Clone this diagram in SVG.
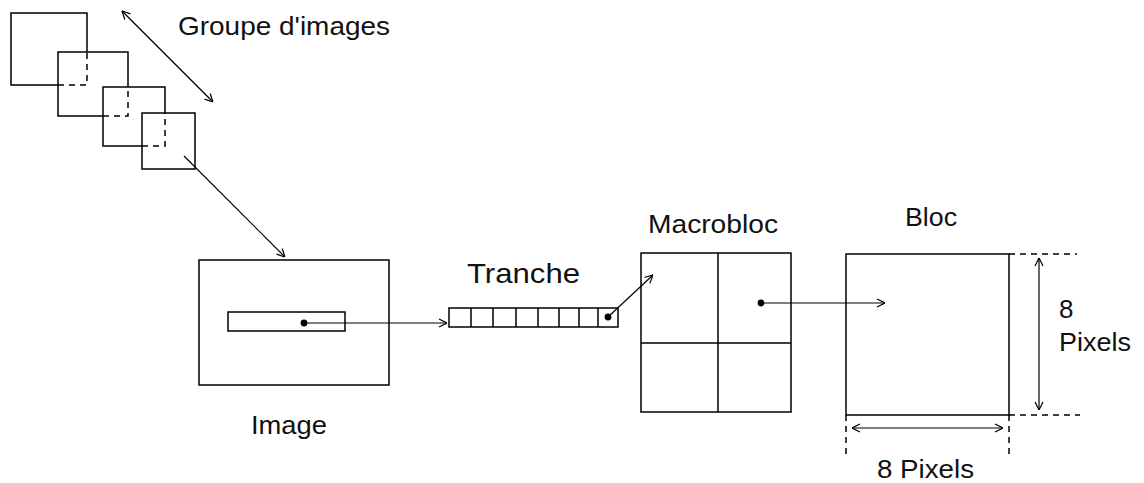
<svg xmlns="http://www.w3.org/2000/svg" width="1144" height="483" viewBox="0 0 1144 483">
<style>
.box{fill:none;stroke:#000;stroke-width:1.5}
.dash{fill:none;stroke:#000;stroke-width:1.5;stroke-dasharray:6 5}
.ln{fill:none;stroke:#000;stroke-width:1.2}
.t{font-family:"Liberation Sans",Arial,sans-serif;font-size:26px;fill:#111}
</style>
<defs>
<marker id="ah" viewBox="0 0 10 10" refX="10" refY="5" markerWidth="10" markerHeight="10" markerUnits="userSpaceOnUse" orient="auto-start-reverse">
<path d="M2,1 L10,5 L2,9" fill="none" stroke="#000" stroke-width="1.2"/>
</marker>
</defs>
<rect width="1144" height="483" fill="#fff"/>
<g id="groupe">
<polyline class="box" points="87,52 87,13 11,13 11,85 58,85"/>
<path class="dash" d="M58,85 H87 V52"/>
<polyline class="box" points="128,87 128,52 58,52 58,116 103,116"/>
<path class="dash" d="M103,116 H128 V87"/>
<polyline class="box" points="165,113 165,87 103,87 103,146 142,146"/>
<path class="dash" d="M142,146 H165 V113"/>
<rect class="box" x="142" y="113" width="53" height="56"/>
<text class="t" x="178" y="35" textLength="212" lengthAdjust="spacingAndGlyphs">Groupe d'images</text>
</g>
<g id="image">
<rect class="box" x="199" y="260" width="190" height="125"/>
<rect class="box" x="228" y="312" width="117" height="19"/>
<circle cx="304" cy="323" r="3.4" fill="#000"/>
<text class="t" x="251" y="434" textLength="76" lengthAdjust="spacingAndGlyphs">Image</text>
</g>
<g id="tranche">
<rect class="box" x="449" y="308" width="169" height="19"/>
<path class="box" d="M471,308V327M493,308V327M516,308V327M538,308V327M559,308V327M579,308V327M598,308V327"/>
<circle cx="608" cy="317" r="3.4" fill="#000"/>
<text class="t" x="467" y="283" style="font-size:28px" textLength="113" lengthAdjust="spacingAndGlyphs">Tranche</text>
</g>
<g id="macrobloc">
<rect class="box" x="641" y="253" width="150" height="159"/>
<path class="box" d="M718,253V412M641,343H791"/>
<circle cx="761" cy="303" r="3.4" fill="#000"/>
<text class="t" x="648" y="233" textLength="130" lengthAdjust="spacingAndGlyphs">Macrobloc</text>
</g>
<g id="bloc">
<rect class="box" x="846" y="254" width="163" height="161"/>
<text class="t" x="905" y="226" textLength="52" lengthAdjust="spacingAndGlyphs">Bloc</text>
<path class="dash" d="M1009,254H1077M1009,415H1080M846,415V455M1009,415V455"/>
<text class="t" x="1059" y="318">8</text>
<text class="t" x="1059" y="351" textLength="72" lengthAdjust="spacingAndGlyphs">Pixels</text>
<text class="t" x="877" y="478" textLength="97" lengthAdjust="spacingAndGlyphs">8 Pixels</text>
</g>
<g id="connectors">
<line class="ln" x1="122" y1="11" x2="213" y2="102" marker-start="url(#ah)" marker-end="url(#ah)"/>
<line class="ln" x1="184" y1="156" x2="285" y2="257" marker-end="url(#ah)"/>
<line class="ln" x1="304" y1="323" x2="447" y2="323" marker-end="url(#ah)"/>
<line class="ln" x1="608" y1="317" x2="653" y2="275" marker-end="url(#ah)"/>
<line class="ln" x1="761" y1="303" x2="885" y2="303" marker-end="url(#ah)"/>
<line class="ln" x1="1039" y1="258" x2="1039" y2="410" marker-start="url(#ah)" marker-end="url(#ah)"/>
<line class="ln" x1="852" y1="428" x2="1003" y2="428" marker-start="url(#ah)" marker-end="url(#ah)"/>
</g>
</svg>
